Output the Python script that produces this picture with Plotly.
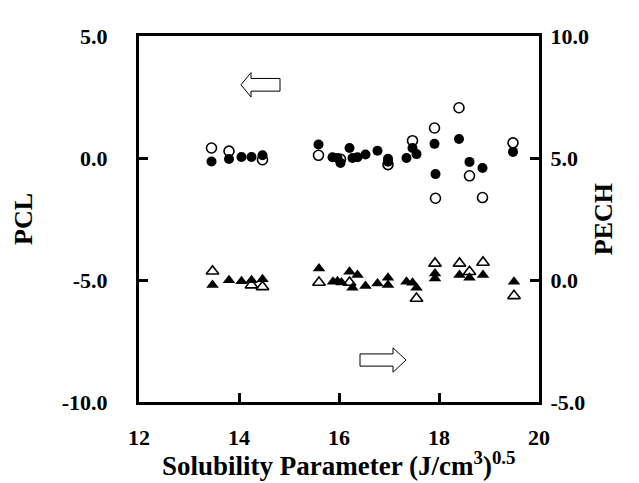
import plotly.graph_objects as go

# PCL (left axis), circles
pcl_filled_x = [13.45, 13.80, 14.05, 14.25, 14.47, 15.59, 15.87, 15.97, 16.03, 16.21, 16.27, 16.37, 16.53,
                16.77, 16.98, 16.98, 17.35, 17.47, 17.55, 17.91, 17.93, 18.40, 18.61, 18.87, 19.48]
pcl_filled_y = [-0.14, -0.04, 0.04, 0.04, 0.11, 0.55, 0.03, 0.00, -0.20, 0.41, 0.00, 0.03, 0.14,
                0.30, -0.03, -0.15, 0.00, 0.41, 0.16, 0.58, -0.66, 0.78, -0.16, -0.41, 0.25]
pcl_open_x = [13.45, 13.80, 14.47, 15.59, 16.03, 16.98, 17.47, 17.91, 17.93, 18.40, 18.61, 18.87, 19.48]
pcl_open_y = [0.41, 0.28, -0.07, 0.11, -0.05, -0.27, 0.71, 1.23, -1.65, 2.06, -0.73, -1.62, 0.62]

# PECH (right axis), triangles
pech_filled_x = [13.47, 13.80, 14.05, 14.25, 14.47, 15.60, 15.88, 15.97, 16.05, 16.21, 16.27, 16.37, 16.53,
                 16.77, 16.98, 16.98, 17.35, 17.47, 17.55, 17.92, 17.92, 18.41, 18.61, 18.88, 19.50]
pech_filled_y = [-0.21, -0.01, -0.05, -0.01, 0.03, 0.47, -0.07, -0.05, -0.10, 0.34, -0.32, 0.20, -0.25,
                 -0.14, 0.09, -0.21, -0.07, -0.11, -0.32, 0.27, 0.06, 0.20, 0.09, 0.20, -0.07]
pech_open_x = [13.47, 14.25, 14.47, 15.60, 16.21, 17.55, 17.92, 18.41, 18.61, 18.88, 19.50]
pech_open_y = [0.36, -0.21, -0.28, -0.10, -0.10, -0.76, 0.68, 0.68, 0.34, 0.72, -0.65]

x_ticks = [12, 14, 16, 18, 20]
left_ticks = [-10, -5, 0, 5]
right_ticks = [-5, 0, 5, 10]

FONT = "Liberation Serif"

fig = go.Figure()

fig.add_trace(go.Scatter(x=pcl_open_x, y=pcl_open_y, mode="markers",
                         marker=dict(symbol="circle-open", size=10, color="black",
                                     line=dict(width=1.6, color="black"))))
fig.add_trace(go.Scatter(x=pcl_filled_x, y=pcl_filled_y, mode="markers",
                         marker=dict(symbol="circle", size=10, color="black")))
fig.add_trace(go.Scatter(x=pech_open_x, y=pech_open_y, mode="markers", yaxis="y2",
                         marker=dict(symbol="triangle-up-open", size=11, color="black",
                                     line=dict(width=1.6, color="black"))))
fig.add_trace(go.Scatter(x=pech_filled_x, y=pech_filled_y, mode="markers", yaxis="y2",
                         marker=dict(symbol="triangle-up", size=11, color="black")))

# hollow arrows pointing at the axis each series belongs to
def arrow_path(tip, back, end, yc, head, shaft):
    return (f"M {tip},{yc} L {back},{yc + head} L {back},{yc + shaft} L {end},{yc + shaft} "
            f"L {end},{yc - shaft} L {back},{yc - shaft} L {back},{yc - head} Z")

fig.add_shape(type="path", xref="x", yref="y",
              path=arrow_path(14.04, 14.24, 14.82, 3.0, 0.5, 0.26),
              line=dict(color="black", width=1), fillcolor="white")
fig.add_shape(type="path", xref="x", yref="y",
              path=arrow_path(17.34, 17.08, 16.42, -8.28, 0.5, 0.25),
              line=dict(color="black", width=1), fillcolor="white")

def bold(vals, fmt):
    return [f"<b>{fmt.format(v)}</b>" for v in vals]

tick_font = dict(family=FONT, size=22, color="black")
title_font = dict(family=FONT, size=26, color="black", weight="bold")

# x title as an annotation so it sits where the reference has it
fig.add_annotation(text="<b>Solubility Parameter (J/cm<sup>3</sup>)<sup>0.5</sup></b>",
                   xref="paper", yref="paper", x=0.5, y=-0.222, xanchor="center", yanchor="bottom",
                   showarrow=False, font=dict(family=FONT, size=27, color="black"))

fig.update_layout(
    width=639, height=483,
    margin=dict(l=131, r=108, t=28, b=89),
    paper_bgcolor="white", plot_bgcolor="white",
    showlegend=False,
    xaxis=dict(range=[12, 20], tickvals=x_ticks, ticktext=bold(x_ticks, "{}"), ticks="inside",
               ticklen=9, tickwidth=3, tickcolor="black", showline=True, linewidth=3,
               linecolor="black", mirror=True, showgrid=False, zeroline=False, automargin=False,
               tickfont=tick_font, ticklabelstandoff=14),
    yaxis=dict(range=[-10, 5], tickvals=left_ticks, ticktext=bold(left_ticks, "{:.1f}"),
               ticks="inside", ticklen=9, tickwidth=3, tickcolor="black", showline=True,
               linewidth=3, linecolor="black", showgrid=False, zeroline=False, automargin=False,
               tickfont=tick_font, ticklabelstandoff=24,
               title=dict(text="<b>PCL</b>", font=title_font, standoff=22)),
    yaxis2=dict(range=[-5, 10], tickvals=right_ticks, ticktext=bold(right_ticks, "{:.1f}"),
                overlaying="y", side="right", ticks="inside", ticklen=9, tickwidth=3,
                tickcolor="black", showline=True, linewidth=3, linecolor="black", showgrid=False,
                zeroline=False, automargin=False, tickfont=tick_font, ticklabelstandoff=4,
                title=dict(text="<b>PECH</b>", font=title_font, standoff=6)),
)

fig.write_html("out.html")
